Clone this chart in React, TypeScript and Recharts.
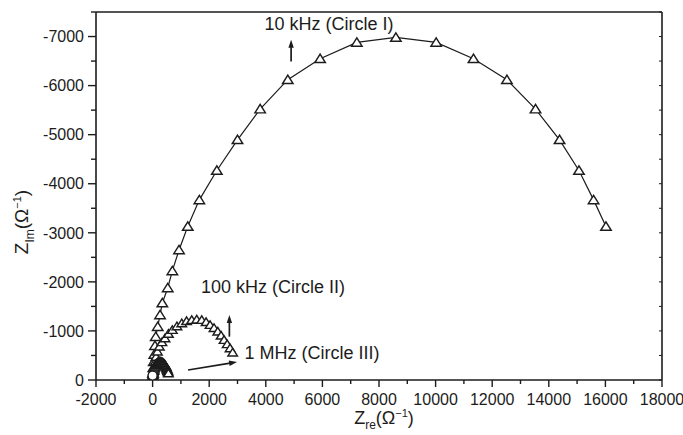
import React from 'react';
import { ScatterChart, Scatter, XAxis, YAxis, ReferenceLine, ReferenceDot } from 'recharts';

// ---- data ----
const circleIRe = [5, 15, 28, 42, 60, 85, 111, 181, 263, 344, 535, 698, 934, 1242, 1652, 2270, 3000, 3800, 4777, 5919, 7217, 8596, 10020, 11339, 12520, 13531, 14380, 15066, 15582, 16020];
const circleIIm = [-50, -140, -250, -370, -520, -700, -883, -1087, -1326, -1570, -1876, -2223, -2651, -3127, -3671, -4269, -4895, -5521, -6120, -6547, -6880, -6981, -6880, -6547, -6120, -5521, -4895, -4269, -3671, -3127];

const circleIIRe = [10, 25, 45, 70, 95, 121, 170, 240, 330, 439, 560, 698, 860, 1030, 1200, 1383, 1560, 1737, 1890, 2030, 2170, 2302, 2420, 2525, 2635, 2737, 2830];
const circleIIIm = [-40, -110, -190, -280, -370, -473, -580, -680, -770, -850, -940, -1020, -1095, -1156, -1200, -1224, -1232, -1224, -1180, -1122, -1060, -986, -905, -816, -730, -646, -560];

const circleIIIRe = [0, 2, 5, 9, 14, 20, 27, 35, 44, 54, 65, 78, 92, 107, 123, 140, 158, 177, 197, 218, 240, 262, 284, 306, 328, 350, 372, 393, 414, 434, 453, 471, 488, 504, 519, 533, 546, 558];
const circleIIIIm = [-10, -35, -60, -85, -110, -135, -160, -185, -208, -230, -252, -272, -291, -308, -323, -336, -347, -356, -363, -368, -371, -372, -371, -368, -363, -356, -347, -336, -323, -308, -291, -272, -252, -230, -208, -185, -160, -135];

const originRe = [0];
const originIm = [-90];

const xTicks = [-2000, -1000, 0, 1000, 2000, 3000, 4000, 5000, 6000, 7000, 8000, 9000, 10000, 11000, 12000, 13000, 14000, 15000, 16000, 17000, 18000];
const yTicks = [-7500, -7000, -6500, -6000, -5500, -5000, -4500, -4000, -3500, -3000, -2500, -2000, -1500, -1000, -500, 0];

const zip = (xs: number[], ys: number[]) => xs.map((x, i) => ({ x, y: ys[i] }));
const dataI = zip(circleIRe, circleIIm);
const dataII = zip(circleIIRe, circleIIIm);
const dataIII = zip(circleIIIRe, circleIIIIm);
const dataOrigin = zip(originRe, originIm);

// ---- styling ----
const FONT = '"Liberation Sans", Arial, Helvetica, sans-serif';
const INK = '#1c1c1c';

const makeTriangle = (w: number) => (props: any) => {
  const { cx, cy } = props;
  if (cx == null || cy == null) return <g />;
  const h = w * 0.8;
  const pts = `${cx - w / 2},${cy + h * 0.45} ${cx + w / 2},${cy + h * 0.45} ${cx},${cy - h * 0.55}`;
  return <polygon points={pts} fill="#fff" stroke={INK} strokeWidth={1.45} strokeLinejoin="miter" />;
};
const TriBig = makeTriangle(10.5);
const TriSmall = makeTriangle(9.5);
const OpenCircle = (props: any) => {
  const { cx, cy } = props;
  return <circle cx={cx} cy={cy} r={4.5} fill="#fff" stroke={INK} strokeWidth={1.3} />;
};

const BottomTick = (props: any) => {
  const { x, y, payload } = props;
  const v = payload.value;
  const major = v % 2000 === 0;
  return (
    <g>
      <line x1={x} x2={x} y1={y} y2={y + (major ? 7 : 4)} stroke={INK} strokeWidth={1.4} />
      {major && (
        <text x={x} y={y + 25} textAnchor="middle" fontSize={16} fontFamily={FONT} fill={INK}>
          {v}
        </text>
      )}
    </g>
  );
};

const LeftTick = (props: any) => {
  const { x, y, payload } = props;
  const v = payload.value;
  const major = v % 1000 === 0;
  return (
    <g>
      <line x1={x - (major ? 8 : 5)} x2={x} y1={y} y2={y} stroke={INK} strokeWidth={1.4} />
      {major && (
        <text x={x - 12} y={y} dy="0.36em" textAnchor="end" fontSize={16} fontFamily={FONT} fill={INK}>
          {v === 0 ? '0' : v}
        </text>
      )}
    </g>
  );
};

const TopTick = (props: any) => {
  const { x, y } = props;
  return <line x1={x} x2={x} y1={y} y2={y + 3} stroke={INK} strokeWidth={1} />;
};
const RightTick = (props: any) => {
  const { x, y } = props;
  return <line x1={x - 3} x2={x} y1={y} y2={y} stroke={INK} strokeWidth={1} />;
};

const Arrow = (props: any) => {
  const { x1, y1, x2, y2 } = props;
  const dx = x2 - x1;
  const dy = y2 - y1;
  const len = Math.hypot(dx, dy) || 1;
  const ux = dx / len;
  const uy = dy / len;
  const hl = 8;
  const hw = 2.7;
  const bx = x2 - ux * hl;
  const by = y2 - uy * hl;
  return (
    <g>
      <line x1={x1} y1={y1} x2={bx + ux} y2={by + uy} stroke={INK} strokeWidth={1.7} />
      <polygon points={`${x2},${y2} ${bx - uy * hw},${by + ux * hw} ${bx + uy * hw},${by - ux * hw}`} fill={INK} />
    </g>
  );
};

const makeLabel = (txt: string) => (p: any) => (
  <text x={p.cx} y={p.cy} fontSize={18} fontFamily={FONT} fill={INK}>
    {txt}
  </text>
);

export default function App() {
  return (
    <div style={{ position: 'absolute', left: 0, top: 0, width: 683, height: 435, background: '#fff' }}>
      <ScatterChart width={683} height={435} margin={{ top: 10, right: 19, bottom: 0, left: 0 }}>
        <XAxis
          type="number"
          dataKey="x"
          domain={[-2000, 18000]}
          ticks={xTicks}
          interval={0}
          allowDataOverflow
          height={55}
          tickSize={0}
          tickMargin={0}
          tickLine={false}
          axisLine={{ stroke: INK, strokeWidth: 1.6 }}
          tick={BottomTick}
        />
        <XAxis
          xAxisId="top"
          orientation="top"
          type="number"
          domain={[-2000, 18000]}
          ticks={xTicks}
          interval={0}
          allowDataOverflow
          height={2}
          tickSize={0}
          tickMargin={0}
          tickLine={false}
          axisLine={{ stroke: INK, strokeWidth: 1.6 }}
          tick={TopTick}
        />
        <YAxis
          type="number"
          dataKey="y"
          domain={[-7500, 0]}
          reversed
          ticks={yTicks}
          interval={0}
          allowDataOverflow
          width={96}
          tickSize={0}
          tickMargin={0}
          tickLine={false}
          axisLine={{ stroke: INK, strokeWidth: 1.6 }}
          tick={LeftTick}
        />
        <YAxis
          yAxisId="right"
          orientation="right"
          type="number"
          domain={[-7500, 0]}
          reversed
          ticks={yTicks}
          interval={0}
          allowDataOverflow
          width={2}
          tickSize={0}
          tickMargin={0}
          tickLine={false}
          axisLine={{ stroke: INK, strokeWidth: 1.6 }}
          tick={RightTick}
        />
        <Scatter data={dataI} isAnimationActive={false} line={{ stroke: INK, strokeWidth: 1.2 }} lineType="joint" shape={TriBig} />
        <Scatter data={dataII} isAnimationActive={false} line={{ stroke: INK, strokeWidth: 1.2 }} lineType="joint" shape={TriSmall} />
        <Scatter data={dataIII} isAnimationActive={false} line={{ stroke: INK, strokeWidth: 1.2 }} lineType="joint" shape={TriSmall} />
        <Scatter data={dataOrigin} isAnimationActive={false} shape={OpenCircle} />
        <ReferenceLine segment={[{ x: 4894, y: -6492 }, { x: 4894, y: -6934 }]} ifOverflow="visible" shape={Arrow} />
        <ReferenceLine segment={[{ x: 2713, y: -883 }, { x: 2713, y: -1326 }]} ifOverflow="visible" shape={Arrow} />
        <ReferenceLine segment={[{ x: 1253, y: -204 }, { x: 2985, y: -367 }]} ifOverflow="visible" shape={Arrow} />
        <ReferenceDot x={3957} y={-7138} r={0} ifOverflow="visible" shape={makeLabel('10 kHz (Circle I)')} />
        <ReferenceDot x={1712} y={-1768} r={0} ifOverflow="visible" shape={makeLabel('100 kHz (Circle II)')} />
        <ReferenceDot x={3250} y={-430} r={0} ifOverflow="visible" shape={makeLabel('1 MHz (Circle III)')} />
      </ScatterChart>
      <svg width={683} height={435} style={{ position: 'absolute', left: 0, top: 0, pointerEvents: 'none' }}>
        <text x={384} y={424} textAnchor="middle" fontSize={18} fontFamily={FONT} fill={INK}>
          <tspan>Z</tspan>
          <tspan dy={5} fontSize={12}>re</tspan>
          <tspan dy={-5}>(Ω</tspan>
          <tspan dy={-7} fontSize={11}>−1</tspan>
          <tspan dy={7}>)</tspan>
        </text>
        <text x={28} y={222} transform="rotate(-90, 28, 222)" textAnchor="middle" fontSize={19} fontFamily={FONT} fill={INK}>
          <tspan>Z</tspan>
          <tspan dy={6} fontSize={12}>Im</tspan>
          <tspan dy={-6}>(Ω</tspan>
          <tspan dy={-7} fontSize={11}>−1</tspan>
          <tspan dy={7}>)</tspan>
        </text>
      </svg>
    </div>
  );
}
